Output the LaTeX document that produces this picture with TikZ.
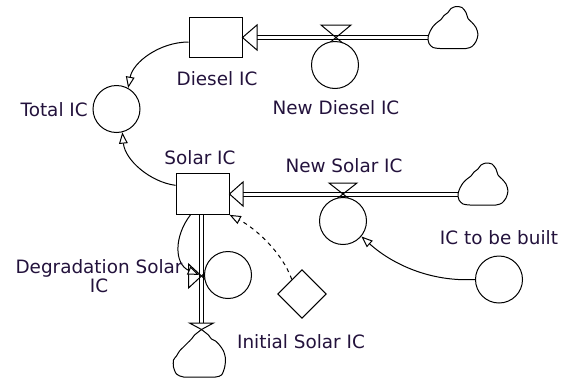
\documentclass[tikz,border=0pt]{standalone}
\usepackage{fontspec}
\setmainfont{DejaVu Sans}
\usetikzlibrary{arrows.meta,shapes.geometric}
\definecolor{txt}{RGB}{35,18,60}
\begin{document}
\begin{tikzpicture}[x=0.75pt,y=-0.75pt,
  lbl/.style={text=txt, font=\fontsize{13.8}{14}\selectfont, inner sep=0pt},
  stock/.style={draw, line width=0.75pt, fill=white, minimum width=39.75pt, minimum height=30.5pt, inner sep=0pt},
  aux/.style={draw, circle, line width=0.75pt, fill=white, minimum size=35.25pt, inner sep=0pt},
  pipe/.style={draw, line width=0.75pt, double=white, double distance=2.25pt},
  link/.style={line width=0.75pt, -{Triangle[fill=white,length=8.5pt,width=6.5pt]}},
  valvel/.style={line width=0.75pt, line join=miter},
  cloudl/.style={line width=0.75pt, line join=round}]
\useasboundingbox (0,0) rectangle (561,379);
% coordinates
\coordinate (dtb) at (257,37.5);
\coordinate (dcl) at (428,37.5);
\coordinate (dvv) at (336,37.5);
\coordinate (stb) at (243,194);
\coordinate (scl) at (458,194);
\coordinate (svv) at (343,194);
\coordinate (gtop) at (201.5,214);
\coordinate (gvv) at (201.5,276);
\coordinate (gend) at (201.5,323);
\coordinate (bcl) at (201.5,335);
% pipes
\draw[pipe] (dtb) -- (dcl);
\draw[pipe] (stb) -- (scl);
\draw[pipe] (gtop) -- (gend);
% clouds
\draw[cloudl, shift={(dcl)}] plot[smooth cycle, tension=0.45] coordinates {(0,0) (1,6) (5,10) (12,11) (25,11) (38,11) (44,9) (48,4) (50,-3) (48,-10) (44,-15) (40,-19) (38,-25) (34,-30) (28,-31) (23,-29) (20,-25) (16,-22) (13,-18) (9,-15) (5,-11) (2,-6)};
\draw[cloudl, shift={(scl)}] plot[smooth cycle, tension=0.45] coordinates {(0,0) (1,6) (5,10) (12,11) (25,11) (38,11) (44,9) (48,4) (50,-3) (48,-10) (44,-15) (40,-19) (38,-25) (34,-30) (28,-31) (23,-29) (20,-25) (16,-22) (13,-18) (9,-15) (5,-11) (2,-6)};
\draw[cloudl, shift={(bcl)}] plot[smooth, tension=0.45] coordinates {(7,0) (10,4) (14,6) (18,10) (22,16) (24,24) (23,33) (20,40) (14,42) (0,42) (-18,42) (-25,39) (-28,32) (-28,25) (-25,21) (-22,16) (-18,12) (-14,8) (-10,4) (-7,0)};
% valves
\draw[valvel] ([shift={(-15,-12.5)}]dvv) -- ([shift={(15,-12.5)}]dvv) -- (dvv) -- cycle;
\draw[valvel] ([shift={(-15,12.5)}]dvv) -- (dvv) -- ([shift={(15,12.5)}]dvv);
\draw[valvel] ([shift={(-14,-11)}]svv) -- ([shift={(14,-11)}]svv) -- (svv) -- cycle;
\draw[valvel] ([shift={(-14,11)}]svv) -- (svv) -- ([shift={(14,11)}]svv);
\draw[valvel] ([shift={(-13,-12)}]gvv) -- ([shift={(-13,12)}]gvv) -- (gvv) -- cycle;
\draw[valvel] ([shift={(13,-12)}]gvv) -- ([shift={(13,12)}]gvv) -- (gvv) -- cycle;
\draw[valvel] ([shift={(-12,0)}]gend) -- ([shift={(12,0)}]gend) -- ([shift={(0,6.5)}]gend) -- cycle;
\draw[valvel] ([shift={(-7,12)}]gend) -- ([shift={(0,6.5)}]gend) -- ([shift={(7,12)}]gend);
% nodes
\node[stock] (dbox) at (215.5,37.5) {};
\node[stock] (sbox) at (202.5,194) {};
\node[aux] (total) at (116.5,109) {};
\node[aux] (ndiesel) at (335,65) {};
\node[aux] (nsolar) at (343,221) {};
\node[aux] (degr) at (228,275) {};
\node[aux] (tobuilt) at (499,279.5) {};
\node[draw, diamond, aspect=1, line width=0.75pt, fill=white, minimum size=36.5pt, inner sep=0pt] (init) at (302,294) {};
% inflow arrowheads at stocks
\draw[valvel, fill=white] (dbox.east) -- ([yshift=9.4pt]dtb) -- ([yshift=-9.4pt]dtb) -- cycle;
\draw[valvel, fill=white] (sbox.east) -- ([yshift=9pt]stb) -- ([yshift=-9pt]stb) -- cycle;
% connectors
\draw[link] ([yshift=-3.4pt]dbox.west) .. controls (160,42) and (133,62) .. (total.61);
\draw[link] ([yshift=6.5pt]sbox.west) .. controls (150,182) and (125,160) .. (total.-76);
\draw[link] (tobuilt.west) .. controls (430,282) and (392,264) .. (nsolar.-40);
\draw[link, dashed] (init.125) .. controls (282,252) and (255,228) .. (sbox.south east);
\draw[link, shorten >=2pt] ([xshift=-9pt]sbox.south) .. controls (174,236) and (174,264) .. (gvv);
% labels
\node[lbl] (ldiesel) at (217,79) {Diesel IC};
\node[lbl, anchor=east] (ltotal) at (88,110) {Total IC};
\node[lbl] (lnd) at (336,108) {New Diesel IC};
\node[lbl] (lns) at (344,166) {New Solar IC};
\node[lbl] (lsolar) at (200,158) {Solar IC};
\node[lbl] (ltb) at (499,238) {IC to be built};
\node[lbl] (linit) at (301,342) {Initial Solar IC};
\node[lbl, align=center] (ldeg) at (99,276) {Degradation Solar\\IC};
\end{tikzpicture}
\end{document}
